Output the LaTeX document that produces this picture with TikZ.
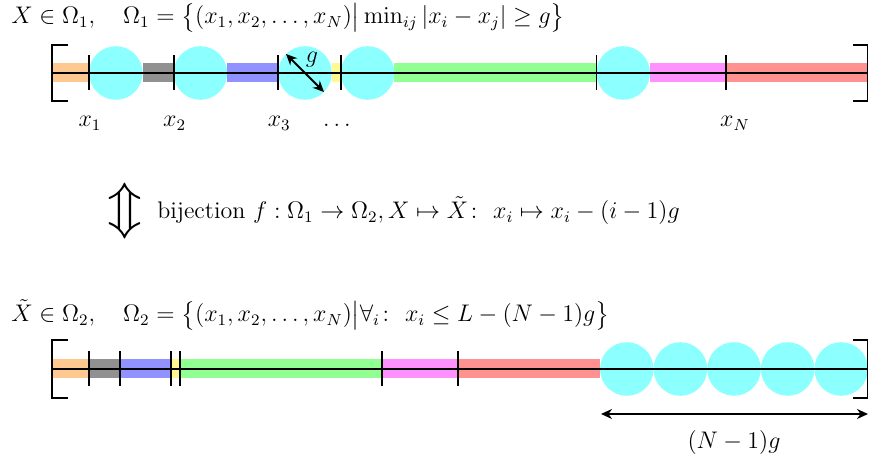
\documentclass[12pt,tikz,border=0pt]{standalone}
\usepackage{amsmath,amssymb}
\usetikzlibrary{arrows.meta,positioning,calc}

\definecolor{ballc}{rgb}{0,1,1}
\definecolor{pinkc}{rgb}{1,0,1}

\tikzset{
  tick/.style={line width=0.9pt},
  axis/.style={line width=0.9pt},
  ball/.style={fill=ballc!45},
  lbl/.style={anchor=base, inner sep=0pt},
  dimarrow/.style={line width=0.9pt, {Stealth[length=5.5pt,width=5pt]}-{Stealth[length=5.5pt,width=5pt]}}
}

\begin{document}
\begin{tikzpicture}[x=0.5pt, y=-0.5pt]
  \useasboundingbox (0,0) rectangle (869,459);

  % Omega_1
  \node[anchor=base west, inner sep=0pt] (title1) at (11,24)
    {$X\in\Omega_1,\quad \Omega_1=\bigl\{(x_1,x_2,\dots,x_N)\big|\min_{ij}|x_i-x_j|\geq g\bigr\}$};

  \foreach \c/\a/\b in {orange/52/89, black/142.6/173.6, blue/227.2/278.2, yellow/331.8/340.8,
                        green/394.4/596.4, pinkc/650/726, red/726/868}
    \fill[\c!43] (\a,63.5) rectangle (\b,82.5);
  \foreach \x in {89,173.6,278.2,340.8,596.4}
    \fill[ball] (\x+26.8,73) circle[radius=13.4pt];
  \coordinate (l1) at (52,73);
  \coordinate (r1) at (868,73);
  \draw[axis] (l1) -- (r1);
  \foreach \x in {89,173.6,278.2,340.8,596.4,726}
    \draw[tick] (\x,55.5) -- (\x,90.5);
  \draw[axis] (68,45) -| (52,101) -- (68,101);
  \draw[axis] (853,45) -| (867.5,101) -- (853,101);

  \coordinate (ga) at (286,54);
  \coordinate (gb) at (324,92);
  \draw[dimarrow] (ga) -- (gb);
  \node (g) at (312,60) {$g$};

  \node[lbl] (x1) at (90,127) {$x_1$};
  \node[lbl] (x2) at (174.6,127) {$x_2$};
  \node[lbl] (x3) at (279.2,127) {$x_3$};
  \node[lbl] (xd) at (339,127) {$\dots$};
  \node[lbl] (xN) at (735,127) {$x_N$};

  % bijection
  \node (updown) at (125,211) {\scalebox{1.15}[1.08]{\Huge$\Updownarrow$}};
  \node[inner sep=0pt, right=3pt of updown.east, anchor=west] (bij)
    {bijection $f:\Omega_1\to\Omega_2, X\mapsto\tilde X\colon\ x_i\mapsto x_i-(i-1)g$};

  % Omega_2
  \node[anchor=base west, inner sep=0pt] (title2) at (11,322)
    {$\tilde X\in\Omega_2,\quad \Omega_2=\bigl\{(x_1,x_2,\dots,x_N)\big|\forall_i\colon\ x_i\leq L-(N-1)g\bigr\}$};

  \foreach \c/\a/\b in {orange/52/89, black/89/120, blue/120/171, yellow/171/180,
                        green/180/382, pinkc/382/458, red/458/600}
    \fill[\c!43] (\a,359.5) rectangle (\b,378.5);
  \foreach \k in {0,...,4}
    \fill[ball] (600+26.8+53.6*\k,369) circle[radius=13.4pt];
  \coordinate (l2) at (52,369);
  \coordinate (r2) at (868,369);
  \draw[axis] (l2) -- (r2);
  \foreach \x in {89,120,171,180,382,458}
    \draw[tick] (\x,351.5) -- (\x,386.5);
  \draw[axis] (68,340) -| (52,398) -- (68,398);
  \draw[axis] (853,340) -| (867.5,398) -- (853,398);

  \coordinate (da) at (601,414);
  \coordinate (db) at (868,414);
  \draw[dimarrow] (da) -- (db);
  \node (dlen) at (734,443) {$(N-1)g$};
\end{tikzpicture}
\end{document}
